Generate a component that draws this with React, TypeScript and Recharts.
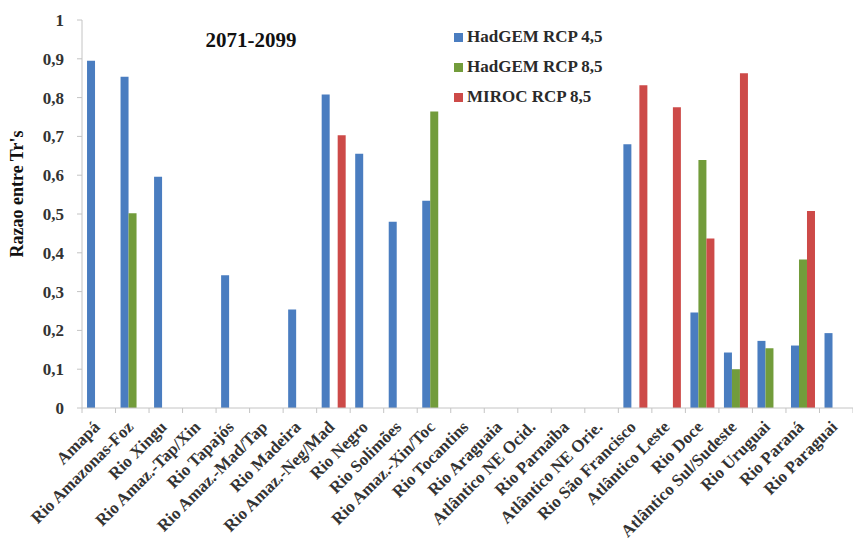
import { BarChart, Bar, XAxis, YAxis, Legend } from "recharts";

const categories = [
  "Amapá",
  "Rio Amazonas-Foz",
  "Rio Xingu",
  "Rio Amaz.-Tap/Xin",
  "Rio Tapajós",
  "Rio Amaz.-Mad/Tap",
  "Rio Madeira",
  "Rio Amaz.-Neg/Mad",
  "Rio Negro",
  "Rio Solimões",
  "Rio Amaz.-Xin/Toc",
  "Rio Tocantins",
  "Rio Araguaia",
  "Atlântico NE Ocid.",
  "Rio Parnaiba",
  "Atlântico NE Orie.",
  "Rio São Francisco",
  "Atlântico Leste",
  "Rio Doce",
  "Atlântico Sul/Sudeste",
  "Rio Uruguai",
  "Rio Paraná",
  "Rio Paraguai",
];

const hadgem45 = [0.895, 0.854, 0.596, null, 0.342, null, 0.254, 0.808, 0.655, 0.48, 0.534, null, null, null, null, null, 0.68, null, 0.246, 0.143, 0.173, 0.161, 0.193];
const hadgem85 = [null, 0.502, null, null, null, null, null, null, null, null, 0.764, null, null, null, null, null, null, null, 0.639, 0.1, 0.154, 0.383, null];
const miroc85 = [null, null, null, null, null, null, null, 0.703, null, null, null, null, null, null, null, null, 0.832, 0.775, 0.437, 0.863, null, 0.508, null];

const yTicks = [0, 0.1, 0.2, 0.3, 0.4, 0.5, 0.6, 0.7, 0.8, 0.9, 1];

const seriesNames = ["HadGEM RCP 4,5", "HadGEM RCP 8,5", "MIROC RCP 8,5"];
const COLORS = ["#4a7dc0", "#729c3b", "#cd4a48"];

const data = categories.map((name, i) => ({
  name,
  h45: hadgem45[i],
  h85: hadgem85[i],
  m85: miroc85[i],
}));

const FONT = '"Liberation Serif", "Times New Roman", serif';
const AXIS = "#c4c4c4";
const HALF_BAND = 771 / categories.length / 2;

function XTick(props: any) {
  const { x, y, payload, index } = props;
  const last = index === categories.length - 1;
  const ax = x + 2;
  const ay = y + 12;
  return (
    <g>
      <line x1={x - HALF_BAND} y1={y - 8} x2={x - HALF_BAND} y2={y - 3} stroke={AXIS} />
      {last && <line x1={x + HALF_BAND} y1={y - 8} x2={x + HALF_BAND} y2={y - 3} stroke={AXIS} />}
      <text
        x={ax}
        y={ay}
        transform={`rotate(-45, ${ax}, ${ay})`}
        textAnchor="end"
        fontFamily={FONT}
        fontSize={17}
        fontWeight="bold"
        fill="#333"
      >
        {payload.value}
      </text>
    </g>
  );
}

function LegendBox() {
  return (
    <div style={{ fontFamily: FONT, fontSize: 17, fontWeight: "bold", color: "#2a2a2a" }}>
      {seriesNames.map((s, i) => (
        <div key={s} style={{ display: "flex", alignItems: "center", height: 30 }}>
          <span style={{ width: 9, height: 9, background: COLORS[i], marginRight: 4 }} />
          <span>{s}</span>
        </div>
      ))}
    </div>
  );
}

export default function App() {
  return (
    <div style={{ position: "absolute", left: 0, top: 0, background: "#fff", fontFamily: FONT }}>
      <BarChart
        width={853}
        height={542}
        data={data}
        margin={{ top: 20, right: 0, bottom: 0, left: 0 }}
        barCategoryGap="15%"
        barGap={0}
      >
        <XAxis
          dataKey="name"
          interval={0}
          height={134}
          stroke={AXIS}
          tickLine={false}
          tick={<XTick />}
        />
        <YAxis
          width={82}
          domain={[0, 1]}
          ticks={yTicks}
          stroke={AXIS}
          tickSize={5}
          tickMargin={13}
          tickFormatter={(v: number) => String(v).replace(".", ",")}
          tick={{ fontFamily: FONT, fontSize: 17, fontWeight: "bold", fill: "#333" }}
        />
        <Legend
          layout="vertical"
          verticalAlign="middle"
          align="center"
          content={<LegendBox />}
          wrapperStyle={{ left: 454, top: 22, width: 200 }}
        />
        <Bar dataKey="h45" name={seriesNames[0]} fill={COLORS[0]} isAnimationActive={false} />
        <Bar dataKey="h85" name={seriesNames[1]} fill={COLORS[1]} isAnimationActive={false} />
        <Bar dataKey="m85" name={seriesNames[2]} fill={COLORS[2]} isAnimationActive={false} />
        <text x={251} y={47} textAnchor="middle" fontFamily={FONT} fontSize={21} fontWeight="bold" fill="#111">
          2071-2099
        </text>
        <text
          x={23}
          y={194}
          transform="rotate(-90, 23, 194)"
          textAnchor="middle"
          fontFamily={FONT}
          fontSize={18}
          fontWeight="bold"
          fill="#111"
        >
          Razao entre Tr's
        </text>
      </BarChart>
    </div>
  );
}
